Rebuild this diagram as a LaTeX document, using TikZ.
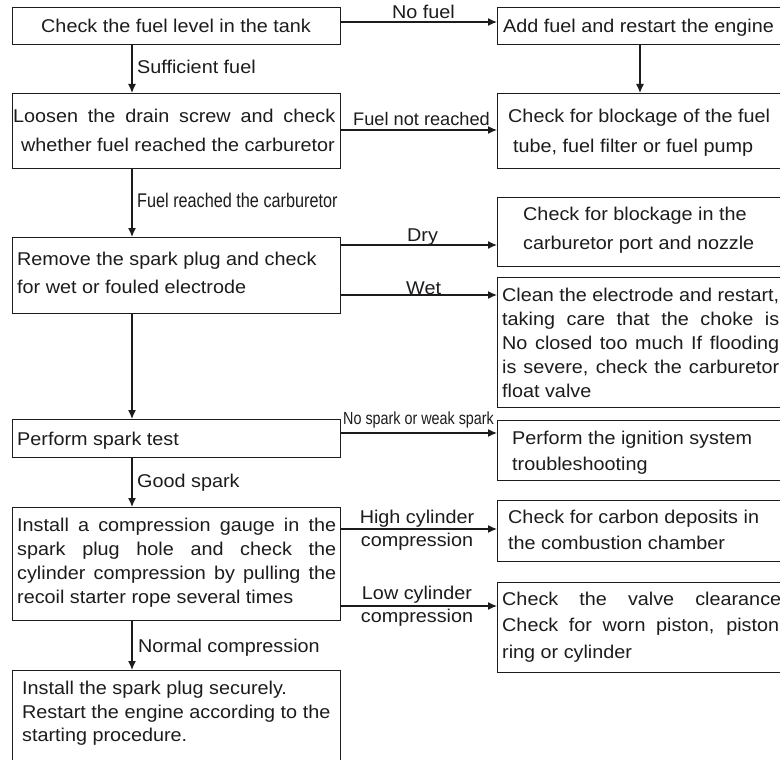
\documentclass[tikz,border=0pt]{standalone}
\usepackage{fontspec}
\setmainfont{Liberation Sans}[FakeStretch=1.07]
\newfontfamily\narrowfont{Liberation Sans}[FakeStretch=0.82]
\newfontfamily\plainfont{Liberation Sans}
\usetikzlibrary{arrows.meta}
\definecolor{ink}{RGB}{30,27,28}
\newcommand\fsmain{\fontsize{18.5}{22}\selectfont}
\newcommand\fsplain{\plainfont\fontsize{18.2}{22}\selectfont}
\newcommand\fsnarrowA{\narrowfont\fontsize{19.8}{22}\selectfont}
\newcommand\fsnarrowB{\narrowfont\fontsize{17.5}{20}\selectfont}
\begin{document}
\begin{tikzpicture}[x=1pt,y=-1pt,
  box/.style={draw=ink, line width=1.35pt, inner sep=0pt, anchor=north west},
  txt/.style={inner sep=0pt, anchor=base west, text=ink, font=\fsmain},
  ctxt/.style={inner sep=0pt, anchor=base, text=ink, font=\fsmain},
  etxt/.style={inner sep=0pt, anchor=base east, text=ink, font=\fsmain},
  arr/.style={draw=ink, line width=1.35pt, -{Latex[length=9pt,width=8pt]}}]
\clip (0,0) rectangle (780,760);
\fill[white] (0,0) rectangle (780,760);

% ---- boxes ----
\node[box, minimum width=328pt, minimum height=37pt]  (b1)  at (12,7)   {};
\node[box, minimum width=293pt, minimum height=37pt]  (b2)  at (497,7)  {};
\node[box, minimum width=328pt, minimum height=75pt]  (b4)  at (12,93)  {};
\node[box, minimum width=293pt, minimum height=75pt]  (b3)  at (497,93) {};
\node[box, minimum width=293pt, minimum height=69pt]  (b6)  at (497,197) {};
\node[box, minimum width=328pt, minimum height=76pt]  (b5)  at (12,237) {};
\node[box, minimum width=293pt, minimum height=130pt] (b7)  at (497,277) {};
\node[box, minimum width=328pt, minimum height=38pt]  (b8)  at (12,419) {};
\node[box, minimum width=293pt, minimum height=60pt]  (b9)  at (497,420) {};
\node[box, minimum width=328pt, minimum height=113pt] (b10) at (12,507) {};
\node[box, minimum width=293pt, minimum height=61pt]  (b11) at (497,500) {};
\node[box, minimum width=293pt, minimum height=90pt]  (b12) at (497,582) {};
\node[box, minimum width=328pt, minimum height=105pt] (b13) at (12,670) {};

% ---- box texts ----
\node[ctxt] (t1) at (176,33) {Check the fuel level in the tank};
\node[txt] (t2) at (503,33) {Add fuel and restart the engine};
\node[txt] (t3a) at (508,123) {Check for blockage of the fuel};
\node[txt] (t3b) at (513,153) {tube, fuel filter or fuel pump};
\node[txt] (t4a) at (13,123) {\makebox[322pt][s]{Loosen the drain screw and check}};
\node[etxt] (t4b) at (335,151) {whether fuel reached the carburetor};
\node[txt] (t6a) at (523,220) {Check for blockage in the};
\node[txt] (t6b) at (523,249) {carburetor port and nozzle};
\node[txt] (t5a) at (17,265) {Remove the spark plug and check};
\node[txt] (t5b) at (17,293) {for wet or fouled electrode};
\node[txt] (t7a) at (502,301) {\makebox[277pt][s]{Clean the electrode and restart,}};
\node[txt] (t7b) at (502,325) {\makebox[277pt][s]{taking care that the choke is}};
\node[txt] (t7c) at (502,349) {\makebox[277pt][s]{No closed too much If flooding}};
\node[txt] (t7d) at (502,373) {\makebox[277pt][s]{is severe, check the carburetor}};
\node[txt] (t7e) at (502,397) {float valve};
\node[txt] (t8) at (17,445) {Perform spark test};
\node[txt] (t9a) at (512,444) {Perform the ignition system};
\node[txt] (t9b) at (512,470) {troubleshooting};
\node[txt] (t10a) at (17,531) {\makebox[319pt][s]{Install a compression gauge in the}};
\node[txt] (t10b) at (17,555) {\makebox[319pt][s]{spark plug hole and check the}};
\node[txt] (t10c) at (17,579) {\makebox[319pt][s]{cylinder compression by pulling the}};
\node[txt] (t10d) at (17,603) {recoil starter rope several times};
\node[txt] (t11a) at (508,523) {Check for carbon deposits in};
\node[txt] (t11b) at (508,549) {the combustion chamber};
\node[txt] (t12a) at (502,605) {\makebox[279pt][s]{Check the valve clearance}};
\node[txt] (t12b) at (502,631) {\makebox[277pt][s]{Check for worn piston, piston}};
\node[txt] (t12c) at (502,658) {ring or cylinder};
\node[txt] (t13a) at (22,694) {Install the spark plug securely.};
\node[txt] (t13b) at (22,718) {Restart the engine according to the};
\node[txt] (t13c) at (22,741) {starting procedure.};

% ---- connector labels ----
\node[txt] (l1) at (392,19) {No fuel};
\node[txt] (l2) at (137,74) {Sufficient fuel};
\node[etxt, font=\fsplain] (l3) at (490,125) {Fuel not reached};
\node[txt, font=\fsnarrowA] (l4) at (137,207) {Fuel reached the carburetor};
\node[txt] (l5) at (407,241) {Dry};
\node[txt] (l6) at (406,294) {Wet};
\node[txt, font=\fsnarrowB] (l7) at (343,424) {No spark or weak spark};
\node[txt] (l8) at (137,487) {Good spark};
\node[ctxt] (l9a) at (417,523) {High cylinder};
\node[ctxt] (l9b) at (417,546) {compression};
\node[ctxt] (l10a) at (417,599) {Low cylinder};
\node[ctxt] (l10b) at (417,622) {compression};
\node[txt] (l11) at (138,652) {Normal compression};

% ---- connectors ----
\coordinate (cl) at (132,0);
\coordinate (cr) at (640,0);
\coordinate (r1) at (0,22);
\coordinate (r2) at (0,130);
\coordinate (r3) at (0,245);
\coordinate (r4) at (0,295);
\coordinate (r5) at (0,433);
\coordinate (r6) at (0,529);
\coordinate (r7) at (0,606);

\draw[arr] (b1.south -| cl) -- (b4.north -| cl);
\draw[arr] (b4.south -| cl) -- (b5.north -| cl);
\draw[arr] (b5.south -| cl) -- (b8.north -| cl);
\draw[arr] (b8.south -| cl) -- (b10.north -| cl);
\draw[arr] (b10.south -| cl) -- (b13.north -| cl);
\draw[arr] (b2.south -| cr) -- (b3.north -| cr);

\draw[arr] (b1.east |- r1) -- (b2.west |- r1);
\draw[arr] (b4.east |- r2) -- (b3.west |- r2);
\draw[arr] (b5.east |- r3) -- (b6.west |- r3);
\draw[arr] (b5.east |- r4) -- (b7.west |- r4);
\draw[arr] (b8.east |- r5) -- (b9.west |- r5);
\draw[arr] (b10.east |- r6) -- (b11.west |- r6);
\draw[arr] (b10.east |- r7) -- (b12.west |- r7);
\end{tikzpicture}
\end{document}
